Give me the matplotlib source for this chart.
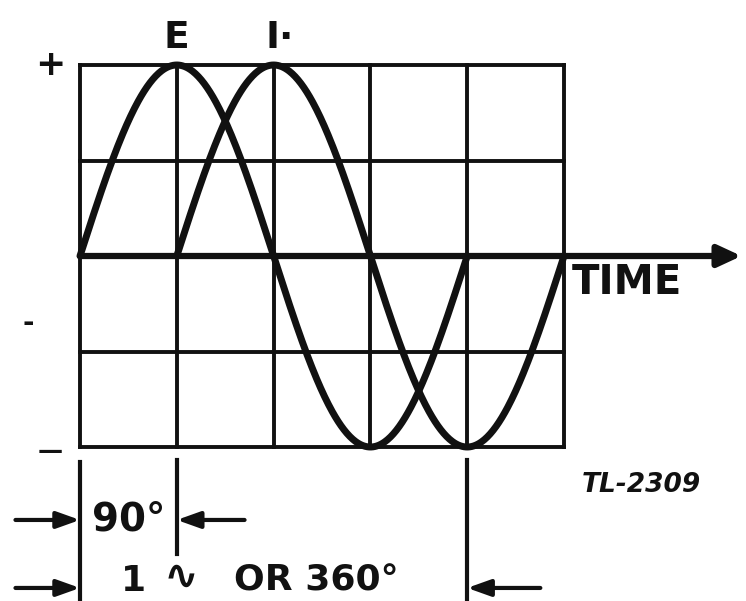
"""Phase diagram: voltage E leads current I by 90 degrees."""
import numpy as np
import matplotlib
matplotlib.use("Agg")
import matplotlib.pyplot as plt

# grid divisions (degrees across, amplitude up)
X_GRID = [0, 90, 180, 270, 360, 450]
Y_GRID = [-1.0, -0.5, 0.0, 0.5, 1.0]

# waves: name, phase where each starts at zero going up, how long drawn
WAVE_NAMES = ["E", "I·"]
WAVE_START = [0, 90]
WAVE_SPAN = [360, 360]
AMPLITUDE = 1.0

INK = "#111111"
FONT = ["DejaVu Sans"]

fig = plt.figure(figsize=(7.46, 6.01), dpi=100)
fig.patch.set_facecolor("white")
ax = fig.add_axes([80 / 746, (601 - 447) / 601, 484 / 746, 382 / 601])
ax.set_xlim(0, 450)
ax.set_ylim(-1, 1)
ax.axis("off")

# grid
for x in X_GRID:
    ax.plot([x, x], [-1, 1], color=INK, lw=2.8, clip_on=False, solid_capstyle="projecting")
for y in Y_GRID:
    if y == 0:
        continue
    ax.plot([0, 450], [y, y], color=INK, lw=2.8, clip_on=False, solid_capstyle="projecting")

# time axis with arrow
ax.annotate("", xy=(615, 0), xytext=(0, 0), xycoords="data",
            arrowprops=dict(arrowstyle="-|>,head_length=1.4,head_width=0.65",
                            lw=4.5, color=INK, shrinkA=0, shrinkB=0),
            annotation_clip=False)

# sine curves
for start, span in zip(WAVE_START, WAVE_SPAN):
    th = np.linspace(start, start + span, 400)
    ax.plot(th, AMPLITUDE * np.sin(np.radians(th - start)), color=INK, lw=5.0,
            clip_on=False, solid_capstyle="round")

# wave labels above their peaks
for name, start in zip(WAVE_NAMES, WAVE_START):
    ax.text(start + 90 + (6 if name != "E" else 0), 1.045, name, ha="center", va="bottom",
            fontsize=27, fontweight="bold", color=INK, family=FONT)

ax.text(-28, 1.0, "+", ha="center", va="center", fontsize=26, fontweight="bold",
        color=INK, family=FONT)
ax.text(-48, -0.35, "-", ha="center", va="center", fontsize=20, fontweight="bold",
        color=INK, family=FONT)
ax.text(-28, -1.02, "—", ha="center", va="center", fontsize=18, fontweight="bold",
        color=INK, family=FONT)

ax.text(457, -0.14, "TIME", ha="left", va="center", fontsize=29, fontweight="bold",
        color=INK, family=FONT)
ax.text(522, -1.2, "TL-2309", ha="center", va="center", fontsize=19, fontweight="bold",
        style="italic", color=INK, family=FONT)

# dimension lines
ax.plot([0, 0], [-1.08, -1.85], color=INK, lw=3.0, clip_on=False)
ax.plot([90, 90], [-1.07, -1.56], color=INK, lw=3.0, clip_on=False)
ax.plot([360, 360], [-1.07, -1.85], color=INK, lw=3.0, clip_on=False)

arrow_kw = dict(arrowstyle="-|>,head_length=1.4,head_width=0.5", lw=3.0, color=INK,
                shrinkA=0, shrinkB=0)
for y, ends in [(-1.382, (90, 153)), (-1.738, (360, 428))]:
    ax.annotate("", xy=(0, y), xytext=(-60, y), arrowprops=arrow_kw, annotation_clip=False)
    ax.annotate("", xy=(ends[0], y), xytext=(ends[1], y), arrowprops=arrow_kw,
                annotation_clip=False)

ax.text(11, -1.38, "90°", ha="left", va="center", fontsize=28, fontweight="bold",
        color=INK, family=FONT)
ax.text(50, -1.70, "1", ha="center", va="center", fontsize=26,
        fontweight="bold", color=INK, family=FONT)
ax.text(94, -1.68, "∿", ha="center", va="center", fontsize=30,
        fontweight="bold", color=INK, family=FONT)
ax.text(143, -1.70, "OR 360°", ha="left", va="center", fontsize=26,
        fontweight="bold", color=INK, family=FONT)

fig.savefig("out.png", dpi=100, facecolor="white")
